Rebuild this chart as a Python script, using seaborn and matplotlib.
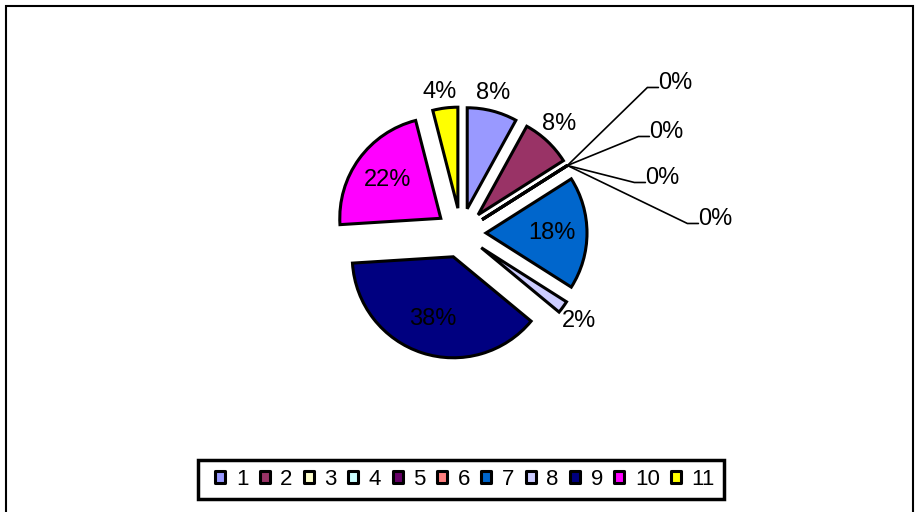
import matplotlib
matplotlib.use("Agg")
import matplotlib.pyplot as plt
from matplotlib.lines import Line2D
from matplotlib.patches import Rectangle
from matplotlib.path import Path
import numpy as np
import seaborn as sns

# Data
categories = ["1", "2", "3", "4", "5", "6", "7", "8", "9", "10", "11"]
shares = [8, 8, 0, 0, 0, 0, 18, 2, 38, 22, 4]
slice_colors = [
  "#9999FF", "#993366", "#FFFFCC", "#CCFFFF", "#660066", "#FF8080",
  "#0066CC", "#CCCCFF", "#000080", "#FF00FF", "#FFFF00",
]

sns.set_theme(style="white")
plt.rcParams["font.family"] = ["Liberation Sans", "DejaVu Sans"]
plt.rcParams["text.color"] = "black"

W, H = 918, 512
fig = plt.figure(figsize=(W / 100, H / 100), dpi=100)
ax = fig.add_axes([0, 0, 1, 1])

palette = sns.color_palette(slice_colors)
radius = 101
wedges, _ = ax.pie(
  shares,
  colors=palette,
  startangle=90,
  counterclock=False,
  center=(461, H - 233),
  radius=radius,
  explode=[25] * len(shares),
  wedgeprops={"edgecolor": "black", "linewidth": 2.2, "joinstyle": "miter"},
)
ax.set_xlim(0, W)
ax.set_ylim(0, H)
ax.set_axis_off()

# Leader elbows for the zero slices (pixel offsets from the slice tip)
zero_elbows = [(80, 78), (71, 29), (67, -17), (120, -58)]
label_size = 17
renderer = fig.canvas.get_renderer()

zi = 0
for w, v in zip(wedges, shares):
  theta = np.deg2rad((w.theta1 + w.theta2) / 2)
  dx, dy = np.cos(theta), np.sin(theta)
  wx, wy = w.center
  if v == 0:
    tx, ty = wx + w.r * dx, wy + w.r * dy
    ex, ey = tx + zero_elbows[zi][0], ty + zero_elbows[zi][1]
    ax.plot([tx, ex, ex + 11], [ty, ey, ey], color="black", lw=1.2,
            solid_joinstyle="miter")
    ax.text(ex + 11, ey - 1.5, f"{v}%", ha="left", va="baseline",
            fontsize=label_size, color="black")
    zi += 1
  elif v >= 10:
    k = 0.65
    ax.text(wx + k * w.r * dx, wy + k * w.r * dy, f"{v}%",
            ha="center", va="center", fontsize=label_size, color="black")
  else:
    # outside label: just clear of the rim, like the spreadsheet does
    t = ax.text(0, 0, f"{v}%", ha="center", va="center",
                fontsize=label_size, color="black")
    bb = t.get_window_extent(renderer)
    support = abs(dx) * bb.width / 2 + abs(dy) * (bb.height / 2 - 2)
    dist = w.r * 1.05 + support
    t.set_position((wx + dist * dx - 4, wy + dist * dy))

# Legend keys: small upright boxes with a heavy outline
key_box = Path([(-0.78, -1), (0.78, -1), (0.78, 1), (-0.78, 1), (-0.78, -1)],
               closed=True)
handles = [
  Line2D([], [], ls="none", marker=key_box, markersize=8.5,
         markerfacecolor=c, markeredgecolor="black", markeredgewidth=2.2)
  for c in palette
]
leg = fig.legend(
  handles, categories,
  loc="center",
  bbox_to_anchor=(198 / W, 1 - 500 / H, 526 / W, 41 / H),
  mode="expand",
  ncol=len(categories),
  frameon=True,
  fancybox=False,
  fontsize=16,
  handlelength=1.2,
  handletextpad=0.1,
  columnspacing=0.2,
  borderpad=0.4,
  borderaxespad=0,
)
for txt in leg.get_texts():
  txt.set_color("black")
leg.get_frame().set_edgecolor("black")
leg.get_frame().set_linewidth(2.5)
leg.get_frame().set_facecolor("white")
leg.get_frame().set_alpha(1)

# Outer chart border
fig.add_artist(Rectangle(
  (6 / W, -0.05), (913 - 6) / W, 1.05 - 6 / H,
  transform=fig.transFigure, fill=False, edgecolor="black", linewidth=1.5,
))

fig.savefig("out.png", dpi=100, facecolor="white")
